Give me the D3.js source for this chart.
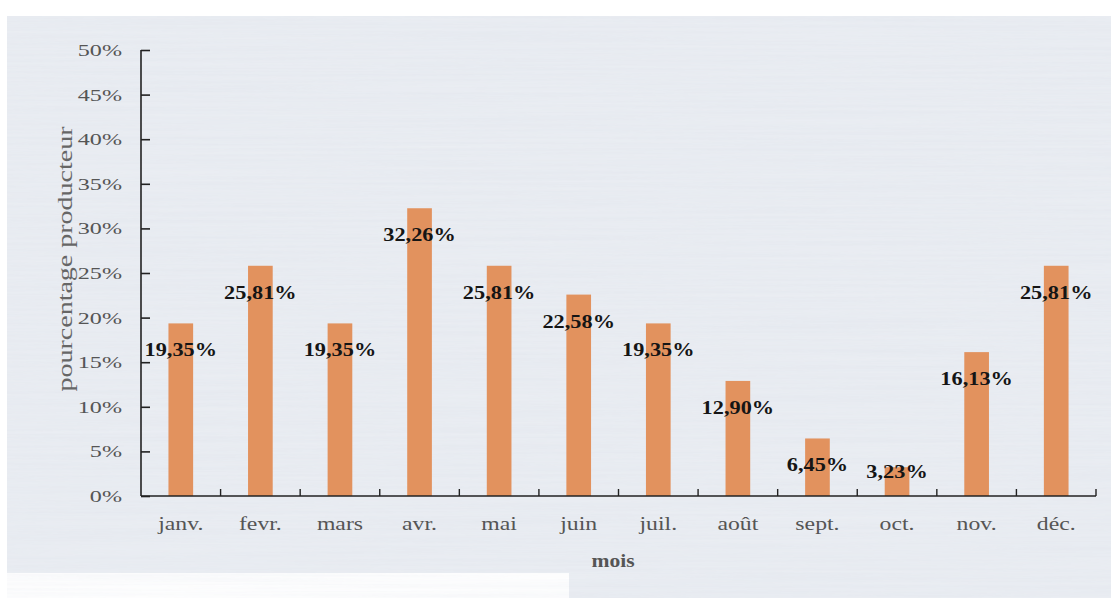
<!DOCTYPE html>
<html>
<head>
<meta charset="utf-8">
<script src="https://cdn.jsdelivr.net/npm/d3@7"></script>
<style>
  html, body { margin: 0; padding: 0; background: #ffffff; }
  svg { display: block; }
</style>
</head>
<body>
<svg id="chart" width="1115" height="598"></svg>
<script>
// Monthly share of producers (percent)
const months = ["janv.", "fevr.", "mars", "avr.", "mai", "juin", "juil.", "août", "sept.", "oct.", "nov.", "déc."];
const values = [19.35, 25.81, 19.35, 32.26, 25.81, 22.58, 19.35, 12.90, 6.45, 3.23, 16.13, 25.81];
const yTicks = [0, 5, 10, 15, 20, 25, 30, 35, 40, 45, 50];
const xTitle = "mois";
const yTitle = "pourcentage producteur";

(function () {
const svg = d3.select("#chart");
const serif = "'Liberation Serif', 'Times New Roman', serif";
const stretch = 1.32; // wide type

// Panel background with faint horizontal streaks
const defs = svg.append("defs");
const f = defs.append("filter").attr("id", "streaks").attr("x", 0).attr("y", 0).attr("width", 1).attr("height", 1);
f.append("feTurbulence").attr("type", "fractalNoise").attr("baseFrequency", "0.003 0.35").attr("numOctaves", 2).attr("seed", 4).attr("result", "n");
f.append("feColorMatrix").attr("in", "n").attr("type", "matrix")
  .attr("values", "0 0 0 0 0.55  0 0 0 0 0.6  0 0 0 0 0.7  0 0 0 0.22 0");

const panelPath = "M7,16 H1111 V598 H569 V573 H7 Z";
const panel = svg.append("g");
panel.append("path").attr("d", panelPath).attr("fill", "#ebeef3");
panel.append("path").attr("d", panelPath).attr("fill", "#ebeef3")
  .attr("filter", "url(#streaks)").attr("opacity", 0.7);

const plotL = 141, plotR = 1096, plotT = 50, plotB = 496;

const x = d3.scaleBand().domain(months).range([plotL, plotR]).paddingInner(0.69).paddingOuter(0.345);
const xBand = d3.scaleBand().domain(months).range([plotL, plotR]);
const y = d3.scaleLinear().domain([0, 50]).range([plotB, plotT]);

// Bars
svg.append("g").selectAll("rect")
  .data(values)
  .join("rect")
  .attr("x", (d, i) => x(months[i]))
  .attr("y", d => y(d))
  .attr("width", x.bandwidth())
  .attr("height", d => y(0) - y(d))
  .attr("fill", "#e2925e");

// Axes with inward ticks
const yAxis = d3.axisLeft(y).tickValues(yTicks).tickSize(-9).tickFormat("");
const yg = svg.append("g").attr("transform", `translate(${plotL},0)`).call(yAxis);
yg.selectAll("path, line").attr("stroke", "#222").attr("stroke-width", 1.6);
yg.select(".domain").attr("d", `M0,${plotT}V${plotB}`);

const xAxis = d3.axisBottom(xBand).tickSize(0).tickFormat("");
const xg = svg.append("g").attr("transform", `translate(0,${plotB})`).call(xAxis);
xg.select(".domain").attr("d", `M${plotL},0H${plotR}`).attr("stroke", "#222").attr("stroke-width", 1.6);
xg.selectAll(".tick").remove();
// category separators
xg.append("g").selectAll("line")
  .data(months)
  .join("line")
  .attr("x1", (d, i) => plotL + xBand.step() * (i + 1))
  .attr("x2", (d, i) => plotL + xBand.step() * (i + 1))
  .attr("y1", 0).attr("y2", -7)
  .attr("stroke", "#222").attr("stroke-width", 1.4);

// Y tick labels
svg.append("g").selectAll("text")
  .data(yTicks)
  .join("text")
  .attr("transform", d => `translate(122,${y(d) + 6}) scale(1.42,1)`)
  .attr("text-anchor", "end")
  .attr("font-family", serif).attr("font-size", 17)
  .attr("fill", "#555")
  .text(d => d + "%");

// Category labels
svg.append("g").selectAll("text")
  .data(months)
  .join("text")
  .attr("transform", d => `translate(${xBand(d) + xBand.bandwidth() / 2},530) scale(${stretch},1)`)
  .attr("text-anchor", "middle")
  .attr("font-family", serif).attr("font-size", 18)
  .attr("fill", "#555")
  .text(d => d);

// Value labels
const fmt = v => v.toFixed(2).replace(".", ",") + "%";
svg.append("g").selectAll("text")
  .data(values)
  .join("text")
  .attr("transform", (d, i) => `translate(${x(months[i]) + x.bandwidth() / 2},${Math.min(y(d) + 33, y(0) - 18)}) scale(1.24,1)`)
  .attr("text-anchor", "middle")
  .attr("font-family", serif).attr("font-size", 18).attr("font-weight", "bold")
  .attr("fill", "#151515")
  .text(d => fmt(d));

// Axis titles
svg.append("text")
  .attr("transform", `translate(613,567) scale(1.2,1)`)
  .attr("text-anchor", "middle")
  .attr("font-family", serif).attr("font-size", 18).attr("font-weight", "bold")
  .attr("fill", "#555")
  .text(xTitle);

svg.append("text")
  .attr("transform", `translate(72,259) rotate(-90) scale(1.4,1)`)
  .attr("text-anchor", "middle")
  .attr("font-family", serif).attr("font-size", 20)
  .attr("fill", "#666")
  .text(yTitle);
})();
</script>
</body>
</html>
